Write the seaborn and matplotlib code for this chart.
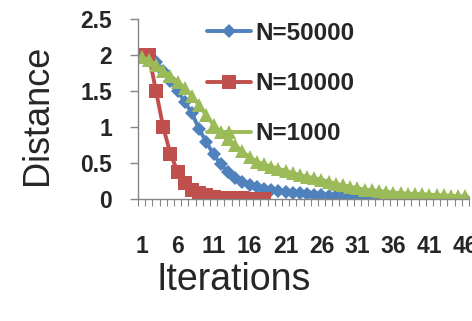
import matplotlib
matplotlib.use("Agg")
import matplotlib.pyplot as plt
import seaborn as sns
from matplotlib.ticker import FixedLocator

# データ
iterations = list(range(1, 47))
tick_labels = ["1", "6", "11", "16", "21", "26", "31", "36", "41", "46"]

n50000 = [2.0, 1.96, 1.9, 1.78, 1.64, 1.5, 1.35, 1.19, 0.97, 0.79,
          0.62, 0.48, 0.37, 0.29, 0.24, 0.19, 0.16, 0.14, 0.12, 0.11,
          0.1, 0.09, 0.08, 0.07, 0.06, 0.05, 0.045, 0.04, 0.035, 0.03,
          0.025, 0.02, 0.018, 0.015, 0.012, 0.01, 0.008, 0.007, 0.006, 0.005,
          0.004, 0.003, 0.002, 0.002, 0.001, 0.001]
n10000 = [2.0, 2.0, 1.5, 1.0, 0.63, 0.38, 0.22, 0.13, 0.08, 0.05,
          0.03, 0.02, 0.015, 0.01, 0.008, 0.005, 0.003, 0.002]
n1000 = [1.97, 1.93, 1.86, 1.78, 1.71, 1.63, 1.54, 1.43, 1.3, 1.16,
         1.03, 0.93, 0.84, 0.75, 0.66, 0.58, 0.52, 0.48, 0.45, 0.42,
         0.39, 0.36, 0.33, 0.31, 0.29, 0.27, 0.24, 0.21, 0.19, 0.17,
         0.15, 0.13, 0.12, 0.11, 0.1, 0.09, 0.08, 0.075, 0.07, 0.065,
         0.06, 0.055, 0.05, 0.045, 0.04, 0.035]

series = [
    ("N=50000", n50000, "#4F81BD", "D", 7.5),
    ("N=10000", n10000, "#C0504D", "s", 10.5),
    ("N=1000", n1000, "#9BBB59", "^", 10.5),
]

sns.set_theme(style="white")
plt.rcParams["font.family"] = ["Liberation Sans", "DejaVu Sans"]

fig = plt.figure(figsize=(4.72, 3.21), dpi=100)
ax = fig.add_axes([138 / 472, 122 / 321, 331 / 472, 180 / 321])

for name, vals, color, marker, ms in series:
    sns.lineplot(x=iterations[:len(vals)], y=vals, ax=ax, color=color,
                 marker=marker, markersize=ms, markeredgewidth=0,
                 linewidth=2.8, label=name)

ax.set_xlim(0.5, 46.5)
ax.set_ylim(0, 2.5)
ax.set_yticks([0, 0.5, 1, 1.5, 2, 2.5])
ax.set_yticklabels(["0", "0.5", "1", "1.5", "2", "2.5"])
ax.set_xticks([int(t) for t in tick_labels])
ax.set_xticklabels(tick_labels)
ax.xaxis.set_minor_locator(FixedLocator([i + 0.5 for i in range(0, 47)]))

grey = "#868686"
for side in ["top", "right"]:
    ax.spines[side].set_visible(False)
for side in ["left", "bottom"]:
    ax.spines[side].set_color(grey)
    ax.spines[side].set_linewidth(1)

ax.tick_params(axis="y", which="major", direction="out", length=5.8, width=1,
               color=grey, pad=13, labelsize=16.5, left=True)
ax.tick_params(axis="x", which="major", length=0, pad=26, labelsize=16.5, bottom=True)
ax.tick_params(axis="x", which="minor", direction="out", length=5, width=0.8,
               color=grey, bottom=True)
for lbl in ax.get_xticklabels() + ax.get_yticklabels():
    lbl.set_fontweight("bold")

ax.set_xlabel("Iterations", fontsize=27)
ax.set_ylabel("Distance", fontsize=26)
ax.xaxis.set_label_coords(0.29, -0.35)
ax.yaxis.set_label_coords(-0.25, 0.467)

ax.legend(loc="upper left", bbox_to_anchor=(207 / 472, 1 - 22 / 321),
          bbox_transform=fig.transFigure, frameon=False, borderpad=0,
          borderaxespad=0, handlelength=1.8, handletextpad=0.2,
          labelspacing=1.12, prop={"size": 17.5, "weight": "bold"})

fig.savefig("out.png", dpi=100)
